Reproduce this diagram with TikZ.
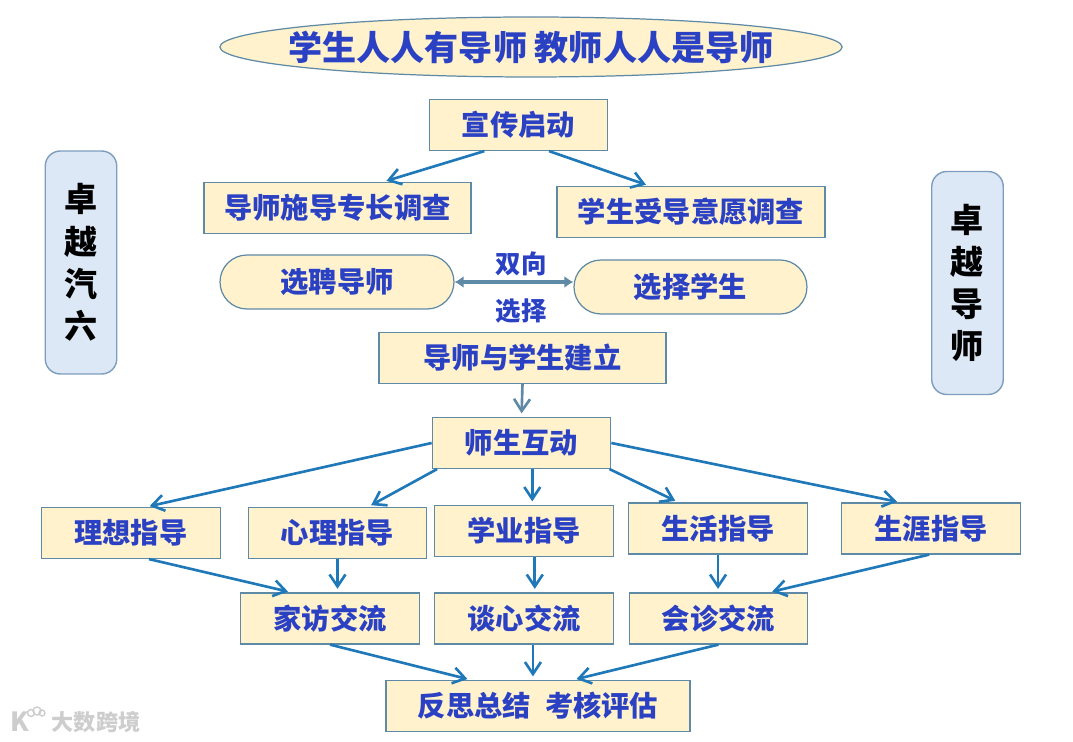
\documentclass[tikz,border=0pt]{standalone}
\usepackage{fontspec}
\setmainfont{Noto Sans CJK SC}
\usepackage{xcolor}
\usetikzlibrary{arrows.meta,calc,shapes.geometric,shapes.misc}
\definecolor{boxfill}{HTML}{FFF2CC}
\definecolor{boxline}{HTML}{5F8AA6}
\definecolor{boxtext}{HTML}{2B41C4}
\definecolor{sidefill}{HTML}{DCE8F5}
\definecolor{sideline}{HTML}{7D9DBE}
\definecolor{flowline}{HTML}{1F78B8}
\definecolor{markgray}{HTML}{CDCDCD}
\tikzset{
  stepbox/.style={draw=boxline, fill=boxfill, line width=0.7pt, text=boxtext, inner sep=0pt,
    font=\fontsize{16.1}{18}\selectfont\bfseries, minimum height=1.02cm, minimum width=3.57cm},
  pillbox/.style={stepbox, rounded rectangle, minimum width=4.68cm, minimum height=1.08cm},
  sidebox/.style={draw=sideline, fill=sidefill, line width=0.8pt, rounded corners=0.3cm, text=black,
    align=center, inner sep=0pt, minimum width=1.43cm, minimum height=4.46cm,
    font=\fontsize{18.8}{24}\selectfont\bfseries},
  flow/.style={draw=flowline, line width=1.5pt, shorten >=2pt,
    -{Straight Barb[length=2.4mm,width=3.2mm,line width=1.5pt]}},
}
\begin{document}
\begin{tikzpicture}[x=0.02cm,y=-0.02cm]
  \useasboundingbox (0,0) rectangle (1073,742);

  % title and side panels
  \node[ellipse, draw=boxline, fill=boxfill, line width=0.7pt, text=boxtext, inner sep=0pt,
    inner xsep=-0.45cm, minimum width=12.44cm, minimum height=1.2cm,
    font=\fontsize{19.4}{22}\selectfont\bfseries]
    (title) at (531,47) {学生人人有导师 教师人人是导师};
  \node[sidebox] (liu) at (81,262.5) {卓\\越\\汽\\六};
  \node[sidebox] (daoshi) at (967.5,283) {卓\\越\\导\\师};

  % upper part
  \node[stepbox] (xuan) at (518.5,125) {宣传启动};
  \node[stepbox, minimum width=5.34cm] (diaocha) at (337.5,208) {导师施导专长调查};
  \node[stepbox, minimum width=5.36cm] (yiyuan) at (691,212) {学生受导意愿调查};
  \node[pillbox] (xuanpin) at (337,282) {选聘导师};
  \node[pillbox, minimum width=4.66cm] (xuanze) at (690.5,287) {选择学生};
  \node[text=boxtext, font=\fontsize{14.5}{16}\selectfont\bfseries, inner sep=0pt] (shuang) at (521,264) {双向};
  \node[text=boxtext, font=\fontsize{14.5}{16}\selectfont\bfseries, inner sep=0pt] (ze) at (521,311) {选择};
  \node[stepbox, minimum width=5.74cm] (jianli) at (522.5,358) {导师与学生建立};
  \node[stepbox] (hudong) at (521.5,443) {师生互动};

  % guidance row
  \node[stepbox] (lixiang) at (131,533) {理想指导};
  \node[stepbox] (xinli) at (337.5,533) {心理指导};
  \node[stepbox] (xueye) at (524,531) {学业指导};
  \node[stepbox] (shenghuo) at (718,528.5) {生活指导};
  \node[stepbox] (shengya) at (931,528.5) {生涯指导};

  % exchange row
  \node[stepbox] (jiafang) at (330,618.5) {家访交流};
  \node[stepbox] (tanxin) at (524,618.5) {谈心交流};
  \node[stepbox] (huizhen) at (718.5,618.5) {会诊交流};
  \node[stepbox, minimum width=6.08cm] (fansi) at (538,706) {反思总结\hspace{0.5em}考核评估};

  % watermark
  \node[text=markgray, font=\fontsize{12.6}{14}\selectfont\bfseries, inner sep=0pt] (mark) at (96,722) {大数跨境};
  \node[text=markgray, font=\fontsize{15}{16}\selectfont\bfseries, inner sep=0pt] (logo) at (20,722) {K};
  \draw[markgray, line width=0.8pt] (31,713) circle(3.5) (37,711) circle(4) (42,713) circle(3);

  % connectors
  \coordinate (hudongout) at ($(hudong.south west)!0.56!(hudong.south east)$);
  \coordinate (xueyeout) at ($(xueye.south west)!0.56!(xueye.south east)$);
  \coordinate (tanxinout) at ($(tanxin.south west)!0.55!(tanxin.south east)$);
  \draw[flow] ($(xuan.south west)!0.31!(xuan.south east)$) -- ($(diaocha.north west)!0.67!(diaocha.north east)$);
  \draw[flow] ($(xuan.south west)!0.67!(xuan.south east)$) -- ($(yiyuan.north west)!0.345!(yiyuan.north east)$);
  \draw[draw=boxline, line width=2pt, {Latex[length=1.8mm,width=2.4mm]}-{Latex[length=1.8mm,width=2.4mm]}] (xuanpin.east) -- (xuanpin.east -| xuanze.west);
  \draw[flow, draw=boxline] (jianli.south) -- (hudong.north);
  \draw[flow] ($(hudong.north west)!0.5!(hudong.south west)$) -- ($(lixiang.north west)!0.585!(lixiang.north east)$);
  \draw[flow] ($(hudong.south west)!0.03!(hudong.south east)$) -- ($(xinli.north west)!0.67!(xinli.north east)$);
  \draw[flow] (hudongout) -- (hudongout |- xueye.north);
  \draw[flow] ($(hudong.south west)!0.99!(hudong.south east)$) -- ($(shenghuo.north west)!0.28!(shenghuo.north east)$);
  \draw[flow] ($(hudong.north east)!0.5!(hudong.south east)$) -- ($(shengya.north west)!0.33!(shengya.north east)$);
  \draw[flow] ($(lixiang.south west)!0.6!(lixiang.south east)$) -- ($(jiafang.north west)!0.285!(jiafang.north east)$);
  \draw[flow] (xinli.south) -- (xinli.south |- jiafang.north);
  \draw[flow] (xueyeout) -- (xueyeout |- tanxin.north);
  \draw[flow] (shenghuo.south) -- (shenghuo.south |- huizhen.north);
  \draw[flow] ($(shengya.south west)!0.49!(shengya.south east)$) -- ($(huizhen.north west)!0.78!(huizhen.north east)$);
  \draw[flow] (jiafang.south) -- ($(fansi.north west)!0.28!(fansi.north east)$);
  \draw[flow] (tanxinout) -- (tanxinout |- fansi.north);
  \draw[flow] ($(huizhen.south west)!0.5!(huizhen.south east)$) -- ($(fansi.north west)!0.615!(fansi.north east)$);
\end{tikzpicture}
\end{document}
